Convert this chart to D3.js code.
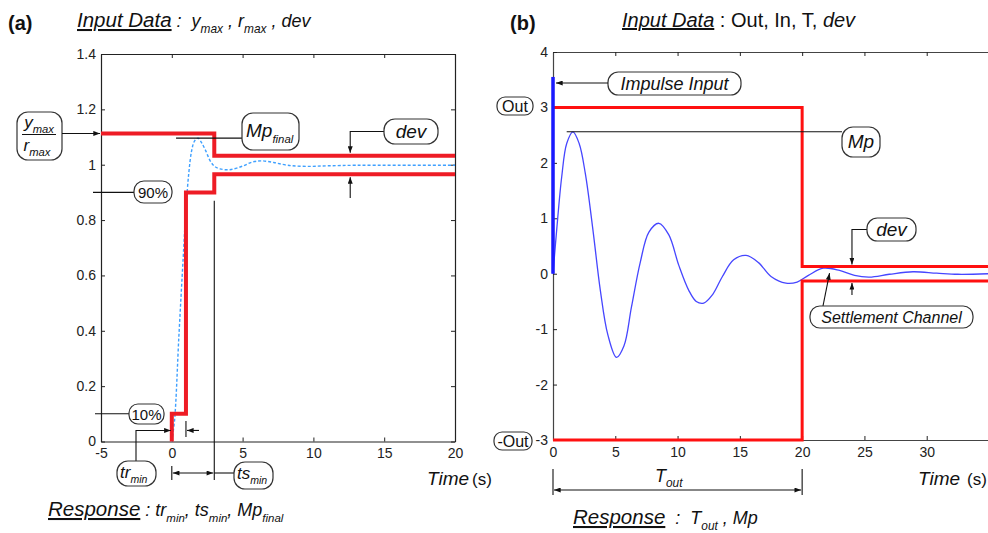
<!DOCTYPE html>
<html>
<head>
<meta charset="utf-8">
<script src="https://cdn.jsdelivr.net/npm/d3@7"></script>
<style>
body { margin: 0; background: #fff; }
text { font-family: "Liberation Sans", Arial, sans-serif; white-space: pre; }
</style>
</head>
<body>
<svg id="chart" width="988" height="533"></svg>
<script>
// ---- panel (a): step response ----
var aTime = [0, 0.2, 0.5, 0.8, 1.0, 1.2, 1.4, 1.6, 1.85, 2.1, 2.4, 2.7, 3.0, 3.4, 4.1, 5.0, 5.7, 6.35, 7.2, 8.2, 9.5, 11, 13, 16, 20];
var aResp = [0, 0.08, 0.38, 0.66, 0.84, 0.97, 1.05, 1.085, 1.096, 1.08, 1.05, 1.015, 0.995, 0.985, 0.982, 0.995, 1.01, 1.014, 1.008, 0.998, 0.994, 0.996, 0.998, 0.998, 0.998];
var aUpperT = [-5, 3, 3, 20];
var aUpperY = [1.113, 1.113, 1.032, 1.032];
var aLowerT = [0, 0, 1, 1, 3, 3, 20];
var aLowerY = [0, 0.1, 0.1, 0.9, 0.9, 0.966, 0.966];
var aXTicks = [-5, 0, 5, 10, 15, 20];
var aYTicks = [0, 0.2, 0.4, 0.6, 0.8, 1, 1.2, 1.4];
var trMin = 1, tsMin = 3, mpFinal = 1.096, yMax = 1.113;

// ---- panel (b): impulse response ----
var bTime = [0, 0.3, 0.7, 1.1, 1.6, 2.1, 2.6, 3.2, 3.8, 4.4, 5.1, 5.7, 6.3, 7.0, 7.7, 8.5, 9.3, 10.1, 10.9, 11.5, 12.1, 12.8, 13.6, 14.5, 15.5, 16.5, 17.5, 18.7, 19.6, 20.5, 21.7, 23.0, 24.2, 25.4, 27.0, 28.9, 30.8, 32.5, 35];
var bResp = [0, 0.8, 1.75, 2.35, 2.56, 2.35, 1.8, 0.8, -0.3, -1.1, -1.51, -1.3, -0.6, 0.2, 0.75, 0.91, 0.7, 0.15, -0.3, -0.5, -0.53, -0.38, -0.05, 0.25, 0.33, 0.2, -0.05, -0.17, -0.15, -0.03, 0.1, 0.06, -0.03, -0.06, -0.01, 0.035, 0.01, -0.01, 0];
var bUpperT = [0, 20, 20, 35];
var bUpperY = [3, 3, 0.13, 0.13];
var bLowerT = [0, 20, 20, 35];
var bLowerY = [-3, -3, -0.13, -0.13];
var bXTicks = [0, 5, 10, 15, 20, 25, 30];
var bYTicks = [-3, -2, -1, 0, 1, 2, 3, 4];
var impulseTop = 3.55, tOut = 20, mpB = 2.56, devB = 0.13;

var svg = d3.select("#chart");
var plain = function(d) { return String(d); };   // keep "-5" with a hyphen like the picture

// arrow head
svg.append("defs").append("marker")
  .attr("id", "ah").attr("viewBox", "0 0 8 6")
  .attr("refX", 8).attr("refY", 3)
  .attr("markerWidth", 7).attr("markerHeight", 5)
  .attr("markerUnits", "userSpaceOnUse")
  .attr("orient", "auto-start-reverse")
  .append("path").attr("d", "M0,0L8,3L0,6Z").attr("fill", "#111");

function zip(a, b) { return a.map(function(v, i) { return [v, b[i]]; }); }

// text with italic / subscript pieces, p.s = own font size
function rich(g, x, y, parts, size, anchor, subScale) {
  subScale = subScale || 0.66;
  var t = g.append("text").attr("x", x).attr("y", y)
    .attr("font-size", size).attr("fill", "#111")
    .attr("text-anchor", anchor || "start");
  var shift = 0;
  parts.forEach(function(p) {
    var s = t.append("tspan").text(p.t);
    var want = p.sub ? size * 0.3 : 0;
    if (want - shift != 0) s.attr("dy", want - shift);
    shift = want;
    if (p.sub) s.attr("font-size", size * subScale);
    else if (p.s) s.attr("font-size", p.s);
    if (p.i) s.attr("font-style", "italic");
    if (p.u) s.attr("text-decoration", "underline");
  });
  return t;
}

function box(g, x, y, w, h) {
  g.append("rect").attr("x", x).attr("y", y).attr("width", w).attr("height", h)
    .attr("rx", Math.min(h * 0.45, 11)).attr("ry", Math.min(h * 0.45, 11))
    .attr("fill", "#fff").attr("stroke", "#333").attr("stroke-width", 1.2);
}

function seg(g, pts, arrowStart, arrowEnd) {
  var p = g.append("path").attr("d", d3.line()(pts))
    .attr("fill", "none").attr("stroke", "#111").attr("stroke-width", 1.1);
  if (arrowStart) p.attr("marker-start", "url(#ah)");
  if (arrowEnd) p.attr("marker-end", "url(#ah)");
}

function styleAxis(sel) {
  sel.select(".domain").attr("stroke", "#222").attr("stroke-width", 1.2);
  sel.selectAll(".tick line").attr("stroke", "#222");
  sel.selectAll(".tick text").attr("fill", "#222").attr("font-size", 14)
    .attr("font-family", "Liberation Sans, Arial, sans-serif");
}

// ================= panel (a) =================
var xa = d3.scaleLinear().domain([-5, 20]).range([101, 455]);
var ya = d3.scaleLinear().domain([0, 1.4]).range([441.5, 54]);
var gA = svg.append("g");

gA.append("g").attr("transform", "translate(0," + ya(0) + ")")
  .call(d3.axisBottom(xa).tickValues(aXTicks).tickSize(-4).tickSizeOuter(0).tickPadding(7).tickFormat(plain))
  .call(styleAxis);
gA.append("g").attr("transform", "translate(0," + ya(1.4) + ")")
  .call(d3.axisTop(xa).tickValues(aXTicks).tickSize(-4).tickSizeOuter(0).tickFormat(""))
  .call(styleAxis);
gA.append("g").attr("transform", "translate(" + xa(-5) + ",0)")
  .call(d3.axisLeft(ya).tickValues(aYTicks).tickSize(-4).tickSizeOuter(0).tickPadding(5).tickFormat(plain))
  .call(styleAxis);
gA.append("g").attr("transform", "translate(" + xa(20) + ",0)")
  .call(d3.axisRight(ya).tickValues(aYTicks).tickSize(-4).tickSizeOuter(0).tickFormat(""))
  .call(styleAxis);

var lineA = d3.line().x(function(d) { return xa(d[0]); }).y(function(d) { return ya(d[1]); });
gA.append("path").datum(zip(aTime, aResp)).attr("d", lineA.curve(d3.curveCatmullRom))
  .attr("fill", "none").attr("stroke", "#3fa0ff").attr("stroke-width", 1.4).attr("stroke-dasharray", "3,2");
lineA.curve(d3.curveLinear);
gA.append("path").datum(zip(aUpperT, aUpperY)).attr("d", lineA)
  .attr("fill", "none").attr("stroke", "#ee1c25").attr("stroke-width", 4);
gA.append("path").datum(zip(aLowerT, aLowerY)).attr("d", lineA)
  .attr("fill", "none").attr("stroke", "#ee1c25").attr("stroke-width", 4);

// annotations (a)
rich(gA, 8, 30, [{t: "(a)"}], 20).attr("font-weight", "bold");
rich(gA, 77, 27, [{t: "Input Data", i: 1, u: 1}, {t: " :  ", i: 1, s: 18}, {t: "y", i: 1, s: 18}, {t: "max", i: 1, sub: 1},
  {t: " , ", i: 1, s: 18}, {t: "r", i: 1, s: 18}, {t: "max", i: 1, sub: 1}, {t: " , dev", i: 1, s: 18}], 20.5, "start", 0.58);

box(gA, 17, 112, 45, 48);
rich(gA, 39, 128, [{t: "y", i: 1}, {t: "max", i: 1, sub: 1}], 17, "middle");
seg(gA, [[22, 134.5], [56, 134.5]]);
rich(gA, 37, 151, [{t: "r", i: 1}, {t: "max", i: 1, sub: 1}], 17, "middle");
seg(gA, [[62, ya(yMax)], [xa(-5) - 1, ya(yMax)]], false, true);

seg(gA, [[xa(0.3), ya(mpFinal)], [243, ya(mpFinal)]]);
box(gA, 242, 113, 57, 37);
rich(gA, 246, 137, [{t: "Mp", i: 1}, {t: "final", i: 1, sub: 1}], 19, "start", 0.6);

seg(gA, [[385, 131.5], [xa(12.6), 131.5], [xa(12.6), ya(1.032) - 3]], false, true);
seg(gA, [[xa(12.6), 198], [xa(12.6), ya(0.966) + 3]], false, true);
box(gA, 384, 119, 54, 25);
rich(gA, 411, 138, [{t: "dev", i: 1}], 19, "middle");

seg(gA, [[93, ya(0.9)], [135, ya(0.9)]]);
box(gA, 134, 181, 38, 22);
rich(gA, 153, 198, [{t: "90%"}], 15, "middle");

seg(gA, [[95, ya(0.1)], [130, ya(0.1)]]);
box(gA, 129, 404, 35, 20);
rich(gA, 146.5, 420, [{t: "10%"}], 15, "middle");

// tr_min
seg(gA, [[136, 461], [136, ya(0.04)], [xa(0) - 1, ya(0.04)]], false, true);
seg(gA, [[199, ya(0.04)], [xa(trMin) + 1, ya(0.04)]], false, true);
seg(gA, [[xa(trMin), 421], [xa(trMin), 437]]);
box(gA, 117, 461, 39, 25);
rich(gA, 120, 478, [{t: "tr", i: 1}, {t: "min", i: 1, sub: 1}], 17, "start", 0.62);

// ts_min
seg(gA, [[xa(tsMin), ya(0.87)], [xa(tsMin), 480]]);
seg(gA, [[xa(0), 466], [xa(0), 480]]);
seg(gA, [[xa(0) + 1, 473], [xa(tsMin) - 1, 473]], true, true);
seg(gA, [[xa(tsMin), 473], [234, 473]]);
box(gA, 234, 462, 39, 27);
rich(gA, 237, 479, [{t: "ts", i: 1}, {t: "min", i: 1, sub: 1}], 17, "start", 0.62);

rich(gA, 427, 485, [{t: "Time", i: 1}], 19);
rich(gA, 472, 485, [{t: "(s)"}], 17);

rich(gA, 48, 516, [{t: "Response", i: 1, u: 1}, {t: " : ", i: 1, s: 18}, {t: "tr", i: 1, s: 18}, {t: "min", i: 1, sub: 1},
  {t: ", ", i: 1, s: 18}, {t: "ts", i: 1, s: 18}, {t: "min", i: 1, sub: 1}, {t: ", ", i: 1, s: 18}, {t: "Mp", i: 1, s: 18},
  {t: "final", i: 1, sub: 1}], 20.5, "start", 0.56);

// ================= panel (b) =================
var xb = d3.scaleLinear().domain([0, 35]).range([553, 989]);
var yb = d3.scaleLinear().domain([-3, 4]).range([440, 52]);
var gB = svg.append("g");

gB.append("g").attr("transform", "translate(0," + yb(-3) + ")")
  .call(d3.axisBottom(xb).tickValues(bXTicks).tickSize(-4).tickSizeOuter(0).tickPadding(7).tickFormat(plain))
  .call(styleAxis);
gB.append("g").attr("transform", "translate(0," + yb(4) + ")")
  .call(d3.axisTop(xb).tickValues(bXTicks).tickSize(-4).tickSizeOuter(0).tickFormat(""))
  .call(styleAxis);
gB.append("g").attr("transform", "translate(" + xb(0) + ",0)")
  .call(d3.axisLeft(yb).tickValues(bYTicks).tickSize(-4).tickSizeOuter(0).tickPadding(5).tickFormat(plain))
  .call(styleAxis);
gB.selectAll(".domain").attr("stroke", "#444");

var lineB = d3.line().x(function(d) { return xb(d[0]); }).y(function(d) { return yb(d[1]); });
gB.append("path").datum(zip(bTime, bResp)).attr("d", lineB.curve(d3.curveCatmullRom))
  .attr("fill", "none").attr("stroke", "#4646ff").attr("stroke-width", 1.3);
lineB.curve(d3.curveLinear);
gB.append("path").datum(zip(bUpperT, bUpperY)).attr("d", lineB)
  .attr("fill", "none").attr("stroke", "#ff1010").attr("stroke-width", 3);
gB.append("path").datum(zip(bLowerT, bLowerY)).attr("d", lineB)
  .attr("fill", "none").attr("stroke", "#ff1010").attr("stroke-width", 3);
gB.append("path").datum([[0, 0], [0, impulseTop]]).attr("d", lineB)
  .attr("fill", "none").attr("stroke", "#1a1aff").attr("stroke-width", 3.5);

// annotations (b)
rich(gB, 510, 30, [{t: "(b)"}], 20).attr("font-weight", "bold");
rich(gB, 622, 27, [{t: "Input Data", i: 1, u: 1}, {t: " : Out, In, T, "}, {t: "dev", i: 1}], 20);

box(gB, 608, 72, 133, 23);
rich(gB, 674.5, 90, [{t: "Impulse Input", i: 1}], 18, "middle");
seg(gB, [[608, 83], [xb(0) + 3, 83]], false, true);

box(gB, 497, 97, 36, 18);
rich(gB, 515, 112, [{t: "Out"}], 16, "middle");
box(gB, 494, 432, 38, 18);
rich(gB, 513, 447, [{t: "-Out"}], 16, "middle");

seg(gB, [[xb(1.1), yb(mpB)], [842, yb(mpB)]]);
box(gB, 842, 127, 38, 30);
rich(gB, 861, 148, [{t: "Mp", i: 1}], 19, "middle");

seg(gB, [[867, 229.5], [xb(24), 229.5], [xb(24), yb(devB) - 2]], false, true);
seg(gB, [[xb(24), 295], [xb(24), yb(-devB) + 2]], false, true);
box(gB, 867, 218, 49, 23);
rich(gB, 891.5, 236, [{t: "dev", i: 1}], 19, "middle");

seg(gB, [[823, 306], [xb(22.2), yb(0.01)]], false, true);
box(gB, 810, 306, 163, 22);
rich(gB, 891.5, 323, [{t: "Settlement Channel", i: 1}], 16, "middle");

seg(gB, [[xb(0), 469], [xb(0), 495]]);
seg(gB, [[xb(tOut), 469], [xb(tOut), 495]]);
seg(gB, [[xb(0) + 1, 490], [xb(tOut) - 1, 490]], true, true);
rich(gB, 655, 482, [{t: "T", i: 1}, {t: "out", i: 1, sub: 1}], 18);

rich(gB, 918, 485, [{t: "Time", i: 1}], 19);
rich(gB, 967, 485, [{t: "(s)"}], 17);

rich(gB, 573, 524, [{t: "Response", i: 1, u: 1}, {t: "  :  ", i: 1, s: 18}, {t: "T", i: 1, s: 18}, {t: "out", i: 1, sub: 1},
  {t: " , Mp", i: 1, s: 18}], 20.5, "start", 0.58);
</script>
</body>
</html>
